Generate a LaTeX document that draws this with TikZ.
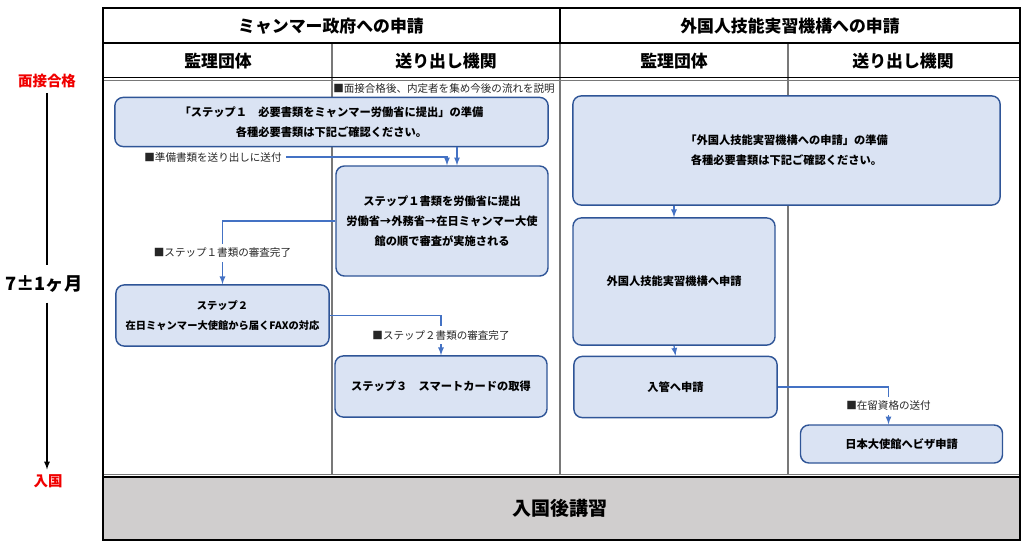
\documentclass[tikz,border=0pt]{standalone}
\usepackage{fontspec}
\setmainfont{Noto Sans CJK JP}
\usepackage{tikz}
\usetikzlibrary{arrows, positioning, shapes, calc}
\definecolor{boxfill}{RGB}{218, 227, 243}
\definecolor{boxline}{RGB}{47, 85, 151}
\definecolor{flowblue}{RGB}{68, 114, 196}
\definecolor{colgray}{RGB}{120, 120, 120}
\definecolor{lecturegray}{RGB}{208, 206, 206}
\definecolor{markred}{RGB}{240, 0, 0}

\begin{document}
\begin{tikzpicture}[
    x=0.025cm, y=-0.025cm,
    stepbox/.style={rectangle, rounded corners=6pt, draw=boxline, line width=1pt, fill=boxfill, align=center, font=\fontsize{8}{14}\selectfont\bfseries},
    note/.style={font=\fontsize{7.5}{9}\selectfont, text=black!85, fill=white, inner sep=3pt},
    head/.style={font=\fontsize{12}{14}\selectfont\bfseries},
    redmark/.style={font=\fontsize{10.3}{12}\selectfont\bfseries, text=markred},
    flow/.style={-{latex}, flowblue, line width=0.9pt},
    colline/.style={colgray, line width=0.9pt}
]
    \useasboundingbox (0,0) rectangle (1024,547);

    % Table frame
    \fill[lecturegray] (103,477) rectangle (1020,540);
    \foreach \cx in {332,560,788}
        \draw[colline] (\cx,43) -- (\cx,475);
    \draw[line width=0.8pt] (560,8) -- (560,43);
    \draw[line width=1.2pt] (103,43) -- (1020,43);
    \draw[line width=0.9pt] (103,77.5) -- (1020,77.5);
    \draw[colline, line width=0.6pt] (103,80.5) -- (1020,80.5);
    \draw[colline, line width=0.6pt] (103,474) -- (1020,474);
    \draw[line width=1pt] (103,477) -- (1020,477);
    \draw[line width=1.2pt] (103,8) rectangle (1020,540);

    % Headers
    \node[head] (govtitle) at (331, 26) {ミャンマー政府への申請};
    \node[head] (ottitle) at (790, 26) {外国人技能実習機構への申請};
    \node[head] (govsup) at (218, 61) {監理団体};
    \node[head] (govsend) at (446, 61) {送り出し機関};
    \node[head] (otsup) at (674, 61) {監理団体};
    \node[head] (otsend) at (903, 61) {送り出し機関};
    \node[font=\fontsize{13.5}{16}\selectfont\bfseries] (lecture) at (560, 508) {入国後講習};

    % Timeline
    \node[redmark] (passed) at (47, 81) {面接合格};
    \node[font=\fontsize{13}{15}\selectfont\bfseries, inner sep=7pt] (span) at (44, 284) {7±1ヶ月};
    \node[redmark] (entry) at (48, 481) {入国};
    \draw[line width=0.9pt] (passed) -- (passed |- span.north);
    \draw[-{latex}, line width=0.9pt] (passed |- span.south) -- (passed |- entry.north);

    % Myanmar side
    \node[note, fill=none] (briefing) at (444, 89) {■面接合格後、内定者を集め今後の流れを説明};
    \node[stepbox, minimum width=10.83cm, minimum height=1.23cm] (prep1) at (331.5, 122)
        {「ステップ１　必要書類をミャンマー労働省に提出」の準備\\各種必要書類は下記ご確認ください。};
    \node[stepbox, minimum width=5.3cm, minimum height=2.75cm] (submit1) at (442, 221)
        {ステップ１書類を労働省に提出\\労働省→外務省→在日ミャンマー大使\\館の順で審査が実施される};
    \node[stepbox, minimum width=5.33cm, minimum height=1.53cm, inner xsep=1pt,
          font=\fontsize{7.3}{14}\selectfont\bfseries] (fax2) at (222.5, 315.5)
        {ステップ２\\在日ミャンマー大使館から届くFAXの対応};
    \node[stepbox, minimum width=5.3cm, minimum height=1.53cm] (card3) at (441, 386.5)
        {ステップ３　スマートカードの取得};
    \node[note] (sendnote) at (213, 157) {■準備書類を送り出しに送付};

    % OTIT side
    \node[stepbox, minimum width=10.68cm, minimum height=2.73cm] (prepot) at (786.5, 150.5)
        {「外国人技能実習機構への申請」の準備\\各種必要書類は下記ご確認ください。};
    \node[stepbox, minimum width=5.05cm, minimum height=3.18cm] (applyot) at (674, 281.5)
        {外国人技能実習機構へ申請};
    \node[stepbox, minimum width=5.08cm, minimum height=1.53cm] (immig) at (675.5, 387)
        {入管へ申請};
    \node[stepbox, minimum width=5.05cm, minimum height=0.95cm] (visa) at (901.5, 444)
        {日本大使館へビザ申請};

    % Connectors
    \coordinate (docin) at ($(submit1.north)+(15,0)$);
    \coordinate (sendin) at ($(submit1.north)+(5,0)$);
    \coordinate (visain) at ($(visa.north)+(-13,0)$);
    \draw[flow] (docin |- prep1.south) -- (docin);
    \draw[flow] (sendnote.east) -| (sendin);
    \draw[flow] (submit1.west) -| node[note, pos=0.75] {■ステップ１書類の審査完了} (fax2.north);
    \draw[flow] (fax2.east) -| node[note, pos=0.75] {■ステップ２書類の審査完了} (card3.north);
    \draw[flow] (prepot.south -| applyot.north) -- (applyot.north);
    \draw[flow] (applyot.south) -- (immig.north);
    \draw[flow] (immig.east) -| node[note, pos=0.75] {■在留資格の送付} (visain);
\end{tikzpicture}
\end{document}
